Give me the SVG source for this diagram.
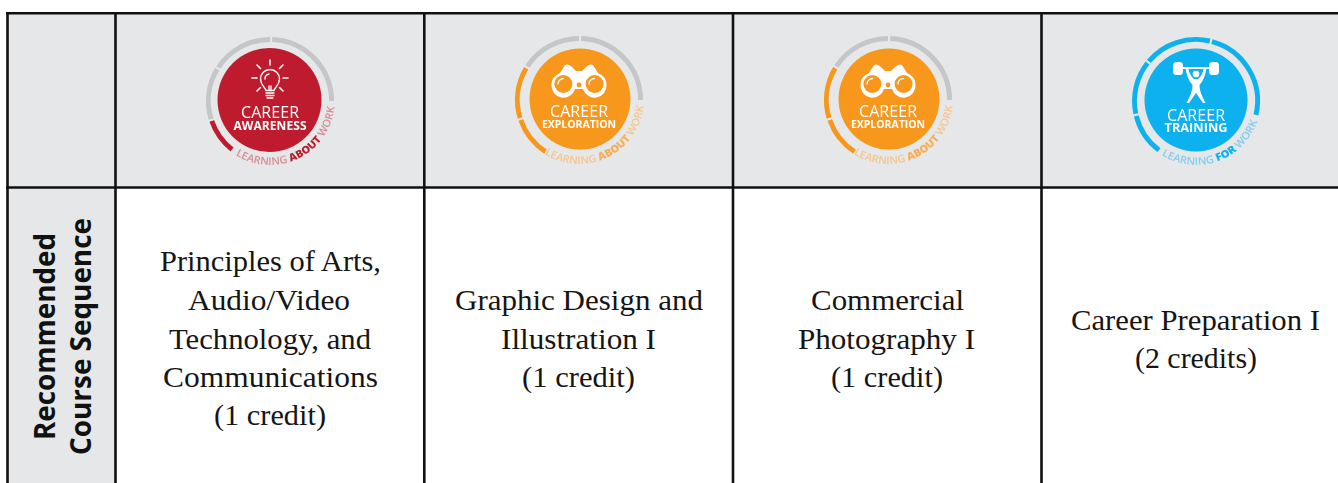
<svg xmlns="http://www.w3.org/2000/svg" xmlns:xlink="http://www.w3.org/1999/xlink" width="1338" height="483" viewBox="0 0 1338 483">
<style>
.cell{fill:#e6e7e8}
.grid{stroke:#111;stroke-width:2.6;fill:none}
.course{font-family:"Liberation Serif",serif;font-size:29px;fill:#151515}
.side{font-family:"Open Sans",sans-serif;font-weight:700;font-size:29px;fill:#111}
.ring{fill:none;stroke-width:5}
.gray{stroke:#c4c6c8}
.t1{font-family:"Open Sans",sans-serif;font-size:16px;fill:#fff;text-anchor:middle}
.t2{font-family:"Open Sans",sans-serif;font-weight:700;fill:#fff;text-anchor:middle}
.arc{font-family:"Open Sans",sans-serif;font-size:10.5px;font-weight:600}
.b{font-weight:800}
.w{fill:none;stroke:#fff;stroke-linecap:round;stroke-linejoin:round}
</style>
<defs>
<path id="lab" d="M-34.4,55.1A65,65 0 0 0 64.6,6.8"/>
<filter id="soft" x="-10%" y="-10%" width="120%" height="120%"><feGaussianBlur stdDeviation="0.35"/></filter>
<g id="binoc">
<path d="M-14,-34Q-10,-36 -6,-31L-3,-28H3L6,-31Q10,-36 14,-34L19,-26Q28,-22 27.5,-14A12,12 0 0 1 4,-10H-4A12,12 0 0 1 -27.5,-14Q-28,-22 -19,-26Z" fill="#fff"/>
<circle cx="-15.6" cy="-15" r="9" fill="#f7971d"/><circle cx="15.6" cy="-15" r="9" fill="#f7971d"/>
<path d="M-21,-15A5.5,5.5 0 0 1 -15.6,-20.5" class="w" stroke-width="1.3"/><path d="M10,-15A5.5,5.5 0 0 1 15.6,-20.5" class="w" stroke-width="1.3"/>
<circle cx="0" cy="-14" r="2.4" fill="#f7971d"/>
</g>
<g id="explore">
<circle r="50.5" cx="1" fill="#f7971d"/>
<g transform="translate(0 1) scale(.985)">
<path class="ring gray" d="M2.18,-62.46A62.5,62.5 0 0 1 62.5,0"/>
<path class="ring gray" d="M-52.4,-34A62.5,62.5 0 0 1 0,-62.5"/>
<path class="ring" stroke="#f7971d" d="M-59.8,18.3A62.5,62.5 0 0 1 -53.6,-32.2"/>
<path class="ring" stroke="#f7971d" d="M-34,52.4A62.5,62.5 0 0 1 -59.1,20.35"/>
</g>
<use href="#binoc" xlink:href="#binoc"/>
<text class="t1" x="0" y="18" textLength="58">CAREER</text>
<text class="t2" x="0" y="29" font-size="10.5" textLength="74">EXPLORATION</text>
<text class="arc" fill="#f6c68c"><textPath href="#lab" xlink:href="#lab" textLength="131" lengthAdjust="spacingAndGlyphs">LEARNING <tspan class="b" fill="#f7ae55">ABOUT</tspan> WORK</textPath></text>
</g>
</defs>

<g id="background">
<rect class="cell" x="7" y="13" width="1331" height="174"/>
<rect class="cell" x="7" y="187" width="108" height="296"/>
<rect x="115" y="187" width="1223" height="296" fill="#fff"/>
</g>

<g id="badge-awareness" transform="translate(270 100)" filter="url(#soft)">
<circle r="52" cx="-0.5" fill="#be1e2d"/>
<g transform="translate(0 1) scale(.985)">
<path class="ring gray" d="M2.18,-62.46A62.5,62.5 0 0 1 62.5,0"/>
<path class="ring gray" d="M-52.4,-34A62.5,62.5 0 0 1 0,-62.5"/>
<path class="ring gray" d="M-59.8,18.3A62.5,62.5 0 0 1 -53.6,-32.2"/>
<path class="ring" stroke="#be1e2d" d="M-38.5,49.25A62.5,62.5 0 0 1 -59.1,20.35"/>
</g>
<path class="w" stroke-width="1.4" d="M-4,-9.500C-5,-13 -9.500,-15 -9.500,-21A9.500,9.500 0 0 1 9.500,-21C9.500,-15 5,-13 4,-9.500Z"/>
<path class="w" stroke-width="1.3" d="M-4,-7H4M-4,-4.500H4M-3,-2H3M-5,-21A5,5 0 0 1 -1,-26M-1,-9.500V-14M1,-9.500V-14"/>
<path class="w" stroke-width="1.5" d="M0,-40V-35M-13,-35L-9.500,-31.500M13,-35L9.500,-31.500M-18,-22H-13M18,-22H13M-13,-9L-9.500,-12.500M13,-9L9.500,-12.500"/>
<text class="t1" x="0" y="18" textLength="58">CAREER</text>
<text class="t2" x="0" y="30" font-size="12" textLength="73">AWARENESS</text>
<text class="arc" fill="#d98c94"><textPath href="#lab" xlink:href="#lab" textLength="131" lengthAdjust="spacingAndGlyphs">LEARNING <tspan class="b" fill="#be1e2d">ABOUT</tspan> WORK</textPath></text>
</g>

<g id="badge-exploration-1" filter="url(#soft)"><use href="#explore" xlink:href="#explore" x="579" y="99"/></g>
<g id="badge-exploration-2" filter="url(#soft)"><use href="#explore" xlink:href="#explore" x="888" y="99"/></g>

<g id="badge-training" transform="translate(1196 100)" filter="url(#soft)">
<circle r="51.5" fill="#0db1ee"/>
<g transform="translate(0 1) scale(.985)">
<path class="ring" stroke="#0db1ee" d="M16.2,-60.4A62.500,62.500 0 0 1 60.9,14.06"/>
<path class="ring" stroke="#0db1ee" d="M-47.9,-40.2A62.500,62.500 0 0 1 14.06,-60.9"/>
<path class="ring" stroke="#0db1ee" d="M-61.1,13A62.500,62.500 0 0 1 -49.25,-38.5"/>
<path class="ring" stroke="#0db1ee" d="M-37.6,49.9A62.500,62.500 0 0 1 -60.6,15.1"/>
</g>
<rect x="-23" y="-38" width="10" height="13" rx="3.500" fill="#fff"/>
<rect x="13" y="-38" width="10" height="13" rx="3.500" fill="#fff"/>
<path class="w" stroke-width="2" d="M-14,-32H14"/>
<circle cx="0" cy="-26" r="3.300" fill="#fff"/>
<path fill="#fff" d="M-10.500,-32L-8,-32Q-6,-24 -2,-21H2Q6,-24 8,-32L10.500,-32Q9,-21 3.500,-15Q3,-9 9.500,3L7,3L0,-7L-7,3L-9.500,3Q-3,-9 -3.500,-15Q-9,-21 -10.500,-32Z"/>
<text class="t1" x="0" y="21" textLength="58">CAREER</text>
<text class="t2" x="0" y="32" font-size="12.5" textLength="63" lengthAdjust="spacingAndGlyphs">TRAINING</text>
<text class="arc" fill="#84cdf0"><textPath href="#lab" xlink:href="#lab" textLength="116" lengthAdjust="spacingAndGlyphs">LEARNING <tspan class="b" fill="#0db1ee">FOR</tspan> WORK</textPath></text>
</g>

<g id="row-label">
<text class="side" transform="translate(55 336.500) rotate(-90)" text-anchor="middle" textLength="207" lengthAdjust="spacingAndGlyphs">Recommended</text>
<text class="side" transform="translate(91 336.500) rotate(-90)" text-anchor="middle" textLength="237" lengthAdjust="spacingAndGlyphs">Course Sequence</text>
</g>

<g id="course-1">
<text class="course" x="160" y="271" textLength="221" lengthAdjust="spacingAndGlyphs">Principles of Arts,</text>
<text class="course" x="188" y="310" textLength="162" lengthAdjust="spacingAndGlyphs">Audio/Video</text>
<text class="course" x="169" y="349" textLength="202" lengthAdjust="spacingAndGlyphs">Technology, and</text>
<text class="course" x="163" y="387" textLength="215" lengthAdjust="spacingAndGlyphs">Communications</text>
<text class="course" x="214" y="425" textLength="112" lengthAdjust="spacingAndGlyphs">(1 credit)</text>
</g>
<g id="course-2">
<text class="course" x="455" y="310" textLength="248" lengthAdjust="spacingAndGlyphs">Graphic Design and</text>
<text class="course" x="501" y="349" textLength="155" lengthAdjust="spacingAndGlyphs">Illustration I</text>
<text class="course" x="522" y="387" textLength="113" lengthAdjust="spacingAndGlyphs">(1 credit)</text>
</g>
<g id="course-3">
<text class="course" x="811" y="310" textLength="153" lengthAdjust="spacingAndGlyphs">Commercial</text>
<text class="course" x="798" y="349" textLength="177" lengthAdjust="spacingAndGlyphs">Photography I</text>
<text class="course" x="831" y="387" textLength="112" lengthAdjust="spacingAndGlyphs">(1 credit)</text>
</g>
<g id="course-4">
<text class="course" x="1071" y="330" textLength="249" lengthAdjust="spacingAndGlyphs">Career Preparation I</text>
<text class="course" x="1135" y="368" textLength="122" lengthAdjust="spacingAndGlyphs">(2 credits)</text>
</g>

<g id="grid" class="grid">
<path d="M6,13.300H1338M6,187.500H1338"/>
<path d="M7.500,13V483M115.500,13V483M424.300,13V483M733,13V483M1041.500,13V483"/>
</g>
</svg>
